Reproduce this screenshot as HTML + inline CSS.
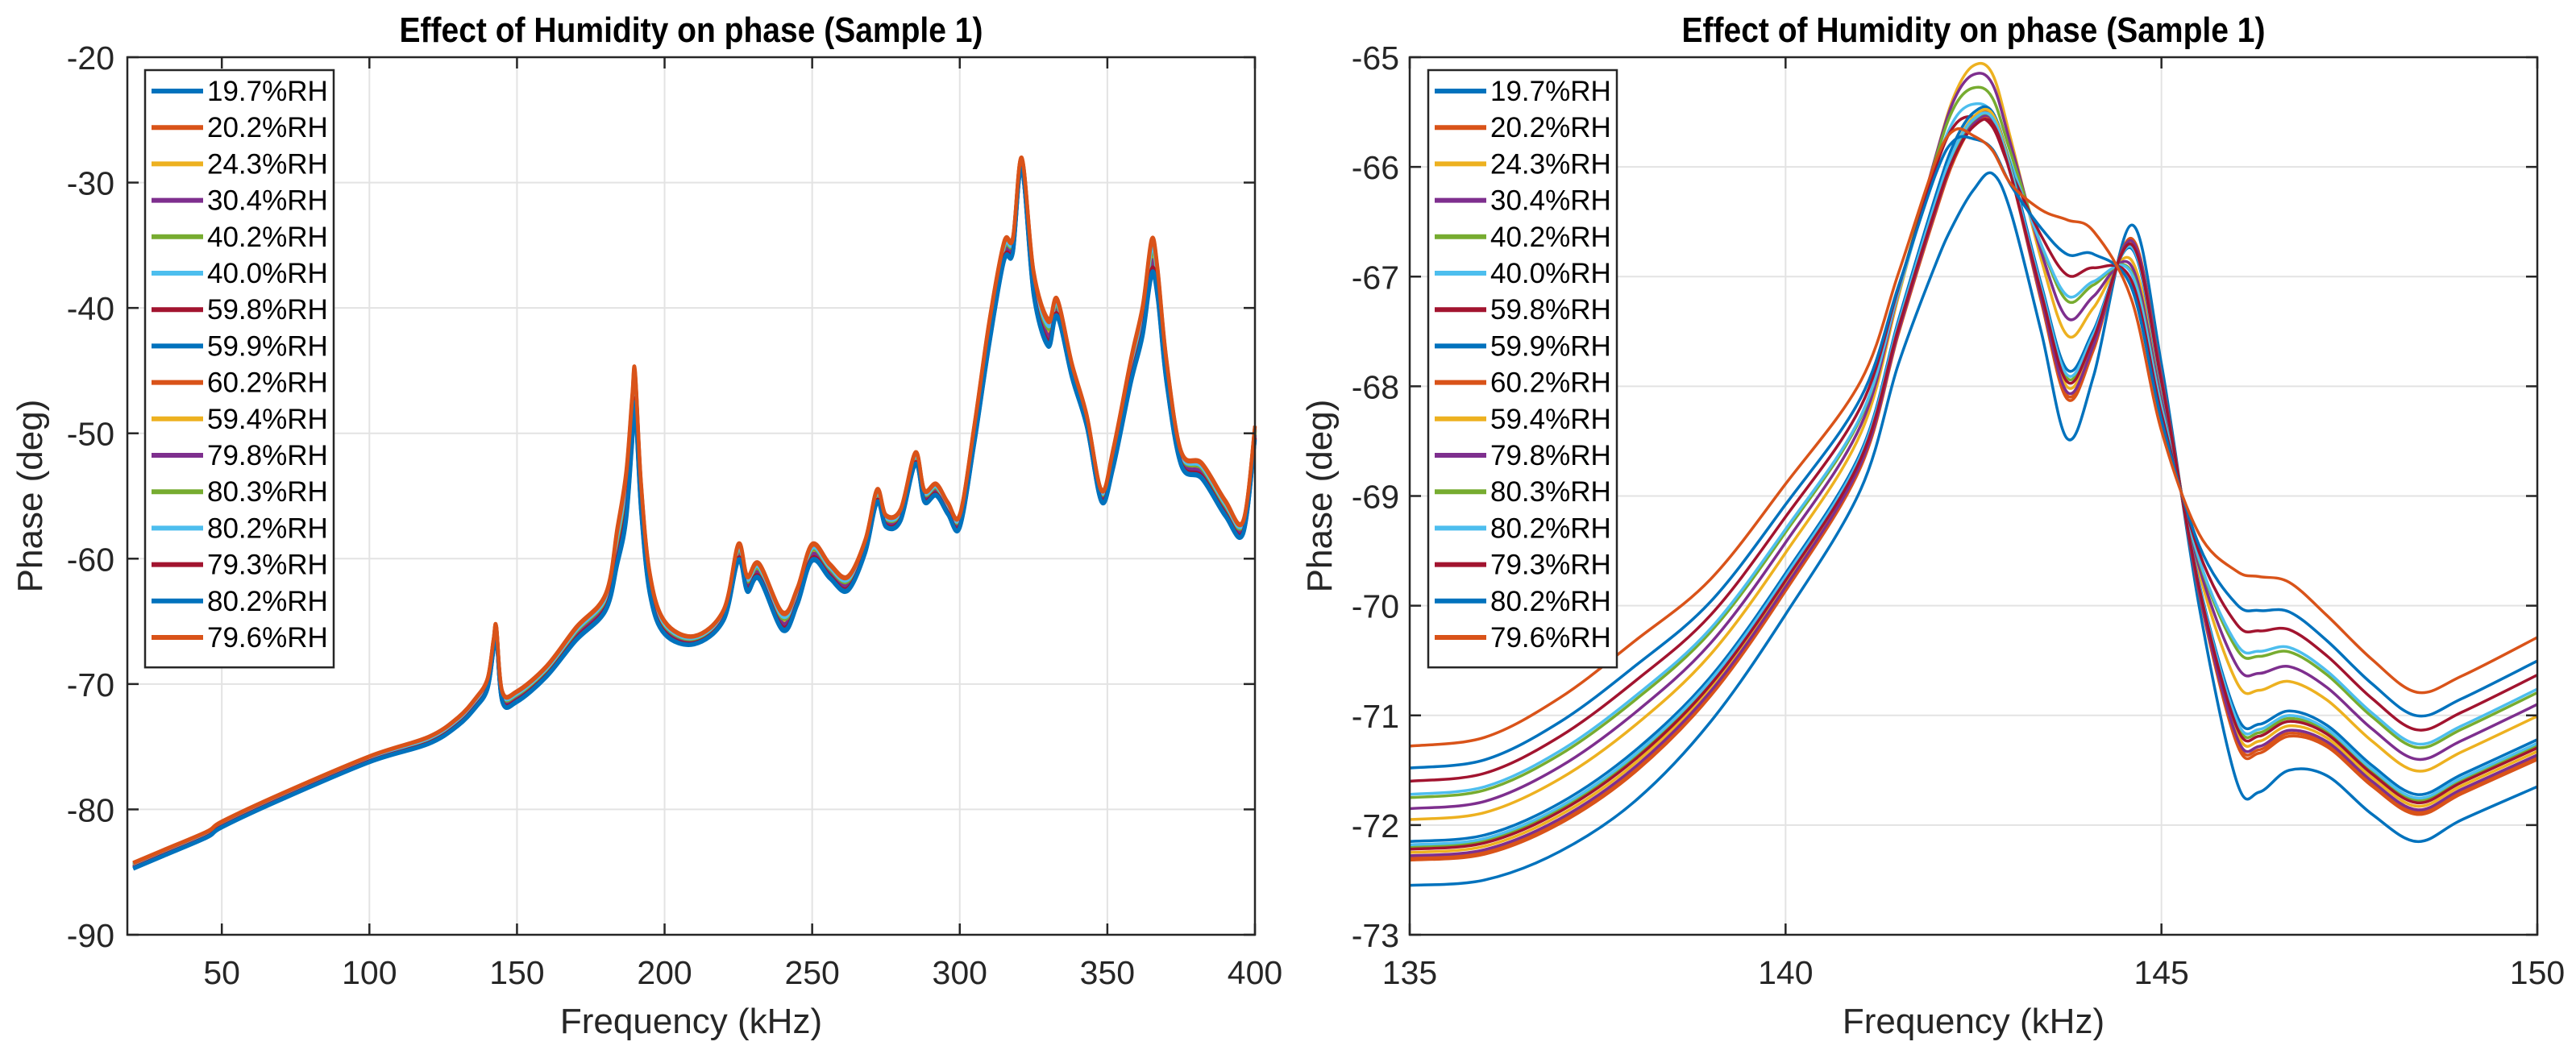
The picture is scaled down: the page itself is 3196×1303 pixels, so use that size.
<!DOCTYPE html>
<html><head><meta charset="utf-8">
<style>
html,body{margin:0;padding:0;background:#fff;}
svg{display:block;font-family:"Liberation Sans",Arial,sans-serif;}
</style></head>
<body>
<svg id="fig" width="3196" height="1303" viewBox="0 0 3196 1303" xmlns="http://www.w3.org/2000/svg">
<rect width="3196" height="1303" fill="#fff"/>
</svg>
<script>
// ---------- shared data ----------
const seriesLabels = ["19.7%RH","20.2%RH","24.3%RH","30.4%RH","40.2%RH","40.0%RH","59.8%RH","59.9%RH","60.2%RH","59.4%RH","79.8%RH","80.3%RH","80.2%RH","79.3%RH","80.2%RH","79.6%RH"];
const seriesColors = ["#0072BD","#D95319","#EDB120","#7E2F8E","#77AC30","#4DBEEE","#A2142F","#0072BD","#D95319","#EDB120","#7E2F8E","#77AC30","#4DBEEE","#A2142F","#0072BD","#D95319"];

// ---------- left chart data ----------
const leftFreq = [20,30,45,50,70,100,120,130,136,140,142,143,145,150,160,170,180,184,187,189,190,192,195,200,210,220,225,228,232,240,245,250,256,262,268,272,275,280,285,288,292,296,300,305,310,315,318,321,325,330,333,338,343,348,352,358,362,365,367,370,375,382,390,396,400];
const leftPhase = [-84.5,-83.5,-82,-81.2,-79,-76,-74.5,-73,-71.5,-70,-67,-65.8,-71,-71,-69,-66,-63.5,-59,-55,-49,-46.5,-55,-62,-65.5,-66.5,-64.5,-59.5,-62,-61,-65,-63,-59.5,-61,-62,-59,-55,-57,-56.5,-52,-55,-54.5,-56,-57,-50,-42,-35.5,-35,-28.5,-38,-42,-40,-45,-49,-55,-52,-45,-41,-36,-38,-45,-52,-53,-56,-57.5,-50];
const leftSpread = [0.5,0.5,0.5,0.5,0.5,0.5,0.6,0.7,0.8,0.9,1,0.8,0.9,0.9,0.9,1.1,1.4,3,4,4,3,2.5,1.8,1.1,0.7,0.9,1.4,1.3,1.3,1.5,1.4,1.4,1.2,1.2,1.1,1.1,1,1,1,1,1,1,1.1,1.6,2,1.6,1.3,1,2,2.2,1.5,1.2,1,1,1.6,2,2.5,3,2.5,2,1.2,1.3,1.3,1.1,1.2];
const leftOffsets = [-0.5,0.45,0.1,-0.2,0.2,0.3,-0.35,-0.45,0.5,0,-0.1,0.15,0.25,-0.3,-0.4,0.4];
const leftXTicks = [50,100,150,200,250,300,350,400];
const leftYTicks = [-20,-30,-40,-50,-60,-70,-80,-90];

// ---------- right chart data ----------
const rightFreq = [135,136,137,138,139,140,141,141.5,142,142.25,142.5,142.75,143,143.4,143.75,144.1,144.6,145,145.5,146,146.3,146.7,147.2,147.8,148.4,149,150];
const rightLow = [-72.55,-72.5,-72.24,-71.78,-71.06,-70.08,-68.94,-67.8,-66.88,-66.5,-66.21,-66.06,-66.42,-67.5,-68.48,-67.9,-66.53,-67.8,-70.0,-71.6,-71.7,-71.5,-71.55,-71.9,-72.15,-71.95,-71.65];
const rightHigh = [-71.29,-71.21,-70.85,-70.33,-69.77,-68.9,-67.96,-66.98,-65.95,-65.67,-65.72,-65.85,-66.16,-66.4,-66.5,-66.6,-67.2,-68.4,-69.35,-69.7,-69.75,-69.8,-70.1,-70.5,-70.8,-70.65,-70.3];
const rightBump = [0,0,0,0,0,0,0.05,0.25,0.6,0.85,1,0.9,0.6,0.15,0,0,0,0,0,0,0,0,0,0,0,0,0];
const rightLevels = [-72.55,-72.3,-71.95,-71.85,-71.75,-71.72,-71.6,-72.15,-72.32,-72.25,-72.28,-72.2,-72.18,-72.22,-71.48,-71.28];
const rightPeakBoost = [0,0.55,0.9,0.78,0.62,0.46,0.3,0.55,0.5,0.55,0.5,0.5,0.5,0.45,0.05,0];
const rightXTicks = [135,140,145,150];
const rightYTicks = [-65,-66,-67,-68,-69,-70,-71,-72,-73];

const NS = "http://www.w3.org/2000/svg";
const svg = document.getElementById("fig");
function mk(tag, attrs, parent){
  const e = document.createElementNS(NS, tag);
  for (const k in attrs) e.setAttribute(k, attrs[k]);
  (parent||svg).appendChild(e);
  return e;
}
function smoothPath(pts){
  let d = "M" + pts[0][0].toFixed(1) + "," + pts[0][1].toFixed(1);
  for (let i=0;i<pts.length-1;i++){
    const p0=pts[Math.max(0,i-1)], p1=pts[i], p2=pts[i+1], p3=pts[Math.min(pts.length-1,i+2)];
    const c1x=p1[0]+(p2[0]-p0[0])/6, c1y=p1[1]+(p2[1]-p0[1])/6;
    const c2x=p2[0]-(p3[0]-p1[0])/6, c2y=p2[1]-(p3[1]-p1[1])/6;
    d += " C"+c1x.toFixed(1)+","+c1y.toFixed(1)+" "+c2x.toFixed(1)+","+c2y.toFixed(1)+" "+p2[0].toFixed(1)+","+p2[1].toFixed(1);
  }
  return d;
}

function drawAxes(cfg){
  const {L,R,T,B,xmin,xmax,ymin,ymax,xticks,yticks,prefix} = cfg;
  const sx = v => L + (v - xmin) / (xmax - xmin) * (R - L);
  const sy = v => B - (v - ymin) / (ymax - ymin) * (B - T);
  const g = mk("g", {});
  
  
  xticks.forEach(t => {
    const l = mk("line",{x1:sx(t),x2:sx(t),y1:T,y2:B,stroke:"#e3e3e3","stroke-width":2},g);
    
    
  });
  yticks.forEach(t => {
    const l = mk("line",{x1:L,x2:R,y1:sy(t),y2:sy(t),stroke:"#e3e3e3","stroke-width":2},g);
    
    
  });
  return {sx, sy, g};
}
function drawFrame(cfg){
  const {L,R,T,B,xticks,yticks,sx,sy,prefix,ylabX,ylabRight,title} = cfg;
  const g = mk("g",{});
  
  
  mk("rect",{x:L,y:T,width:R-L,height:B-T,fill:"none",stroke:"#262626","stroke-width":2.5},g);
  xticks.forEach(t => {
    mk("line",{x1:sx(t),x2:sx(t),y1:B,y2:B-14,stroke:"#262626","stroke-width":2.5},g);
    mk("line",{x1:sx(t),x2:sx(t),y1:T,y2:T+14,stroke:"#262626","stroke-width":2.5},g);
    const tx = mk("text",{x:sx(t),y:1221,"font-size":41,fill:"#262626","text-anchor":"middle"},g);
    tx.textContent = t;
    
    
  });
  yticks.forEach(t => {
    mk("line",{x1:L,x2:L+14,y1:sy(t),y2:sy(t),stroke:"#262626","stroke-width":2.5},g);
    mk("line",{x1:R,x2:R-14,y1:sy(t),y2:sy(t),stroke:"#262626","stroke-width":2.5},g);
    const tx = mk("text",{x:ylabRight,y:sy(t)+15,"font-size":41,fill:"#262626","text-anchor":"end"},g);
    tx.textContent = t;
    
    
  });
  const xl = mk("text",{x:(L+R)/2,y:1282,"font-size":44,fill:"#262626","text-anchor":"middle"},svg);
  xl.textContent = "Frequency (kHz)";
  
  
  const yl = mk("text",{x:0,y:0,"font-size":44,fill:"#262626","text-anchor":"middle",transform:"translate("+ylabX+","+((T+B)/2)+") rotate(-90)"},svg);
  yl.textContent = "Phase (deg)";
  
  
  const ti = mk("text",{x:(L+R)/2,y:52,"font-size":44,"font-weight":"bold",fill:"#000","text-anchor":"middle",textLength:724,lengthAdjust:"spacingAndGlyphs"},svg);
  ti.textContent = title;
  
  
}
function drawLegend(x, y, w, prefix, sw){
  const g = mk("g",{});
  
  
  const rowH = 45.2;
  mk("rect",{x:x,y:y,width:w,height:rowH*seriesLabels.length+18,fill:"#fff",stroke:"#262626","stroke-width":2.5},g);
  seriesLabels.forEach((lab,i)=>{
    const cy = y + 26 + i*rowH;
    const e = mk("g",{},g);
    
    
    mk("line",{x1:x+8,x2:x+72,y1:cy,y2:cy,stroke:seriesColors[i],"stroke-width":sw},e);
    const t = mk("text",{x:x+77,y:cy+12,"font-size":35,fill:"#000"},e);
    t.textContent = lab;
  });
}

// ---------- left chart ----------
(function(){
  const cfg = {L:158,R:1557,T:71,B:1160,xmin:18,xmax:400,ymin:-90,ymax:-20,xticks:leftXTicks,yticks:leftYTicks,prefix:"left",ylabX:52,ylabRight:142,title:"Effect of Humidity on phase (Sample 1)"};
  const ax = drawAxes(cfg);
  Object.assign(cfg, ax);
  const lg = mk("g",{});
  
  
  seriesLabels.forEach((lab,i)=>{
    const pts = leftFreq.map((f,j)=>[ax.sx(f), ax.sy(leftPhase[j] + leftOffsets[i]*leftSpread[j])]);
    const p = mk("path",{d:smoothPath(pts),fill:"none",stroke:seriesColors[i],"stroke-width":4.5,"stroke-linejoin":"round"},lg);
    
    
  });
  drawFrame(cfg);
  drawLegend(180, 87, 234, "left", 6);
})();

// ---------- right chart ----------
(function(){
  const cfg = {L:1749,R:3148,T:71,B:1160,xmin:135,xmax:150,ymin:-73,ymax:-65,xticks:rightXTicks,yticks:rightYTicks,prefix:"right",ylabX:1652,ylabRight:1736,title:"Effect of Humidity on phase (Sample 1)"};
  const ax = drawAxes(cfg);
  Object.assign(cfg, ax);
  const rg = mk("g",{});
  
  
  const lo = rightLow[0], hi = rightHigh[0];
  seriesLabels.forEach((lab,i)=>{
    const t = (rightLevels[i] - lo) / (hi - lo);
    const pts = rightFreq.map((f,j)=>[ax.sx(f), ax.sy(rightLow[j] + t*(rightHigh[j]-rightLow[j]) + rightPeakBoost[i]*rightBump[j])]);
    const p = mk("path",{d:smoothPath(pts),fill:"none",stroke:seriesColors[i],"stroke-width":3.5,"stroke-linejoin":"round"},rg);
    
    
  });
  drawFrame(cfg);
  drawLegend(1772, 87, 234, "right", 6);
})();
</script>
</body></html>
